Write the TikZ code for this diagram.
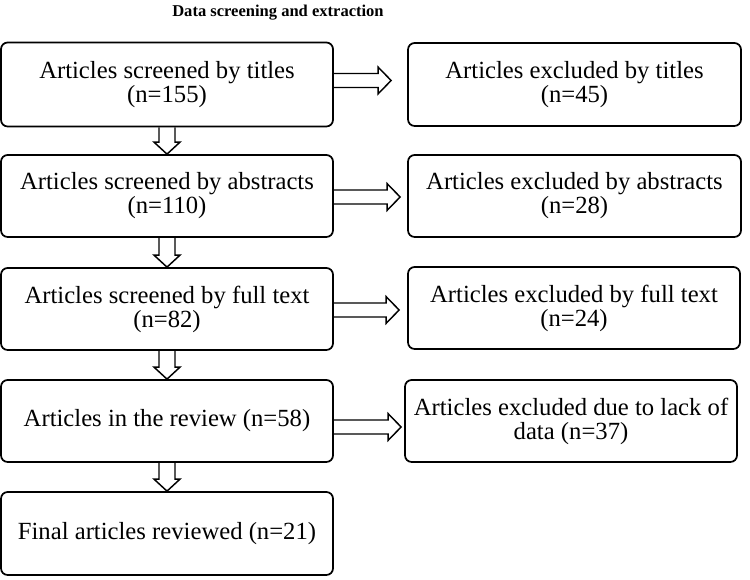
\documentclass[tikz,border=0pt]{standalone}
\usepackage{fontspec}
\setmainfont{Liberation Serif}
\usetikzlibrary{calc}
\tikzset{
  box/.style={draw, line width=1.3pt, rounded corners=5pt, align=center,
    font=\fontsize{18.5}{18}\selectfont, inner sep=0pt},
  hollow/.style={draw, line width=1.1pt, line join=miter},
  titletext/.style={font=\bfseries\fontsize{12.4}{14}\selectfont}
}
\newcommand\hollowright[4]{%
  \draw[hollow] let \p1=(#1.east), \p2=(#2.west) in
   (\x1,\y1+#4+5.25pt) -- (\x2-#3-9.75pt,\y1+#4+5.25pt) -- (\x2-#3-9.75pt,\y1+#4+10pt)
   -- (\x2-#3,\y1+#4) -- (\x2-#3-9.75pt,\y1+#4-10pt) -- (\x2-#3-9.75pt,\y1+#4-5.25pt)
   -- (\x1,\y1+#4-5.25pt);}
\newcommand\hollowdown[2]{%
  \draw[hollow] let \p1=(#1.south), \p2=(#2.north) in
   (\x1-6pt,\y1) -- (\x1-6pt,\y2+9pt) -- (\x1-9.75pt,\y2+9pt) -- (\x1,\y2)
   -- (\x1+9.75pt,\y2+9pt) -- (\x1+6pt,\y2+9pt) -- (\x1+6pt,\y1);}
\begin{document}
\begin{tikzpicture}[x=0.75pt,y=-0.75pt]
\useasboundingbox (0,0) rectangle (750,580);
\node[titletext] (title) at (278,13) {Data screening and extraction};
% left column
\node[box, minimum width=249pt, minimum height=63pt] (b1) at (167,84.5) {Articles screened by titles\\(n=155)};
\node[box, minimum width=249pt, minimum height=61.5pt] (b2) at (167,196) {Articles screened by abstracts\\(n=110)};
\node[box, minimum width=249pt, minimum height=61.5pt] (b3) at (167,309) {Articles screened by full text\\(n=82)};
\node[box, minimum width=249pt, minimum height=61.5pt] (b4) at (167,421) {Articles in the review (n=58)};
\node[box, minimum width=249pt, minimum height=62.25pt] (b5) at (167,533.5) {Final articles reviewed (n=21)};
% right column
\node[box, minimum width=249.75pt, minimum height=62.25pt] (e1) at (574.5,84.5) {Articles excluded by titles\\(n=45)};
\node[box, minimum width=249.75pt, minimum height=61.5pt] (e2) at (574.5,196) {Articles excluded by abstracts\\(n=28)};
\node[box, minimum width=249pt, minimum height=61.5pt] (e3) at (574,308) {Articles excluded by full text\\(n=24)};
\node[box, minimum width=249pt, minimum height=61.5pt] (e4) at (571,421) {Articles excluded due to lack of\\data (n=37)};
% arrows
\hollowright{b1}{e1}{12pt}{3pt}
\hollowright{b2}{e2}{5.25pt}{-0.75pt}
\hollowright{b3}{e3}{6pt}{-0.75pt}
\hollowright{b4}{e4}{2.25pt}{-4.5pt}
\hollowdown{b1}{b2}
\hollowdown{b2}{b3}
\hollowdown{b3}{b4}
\hollowdown{b4}{b5}
\end{tikzpicture}
\end{document}
